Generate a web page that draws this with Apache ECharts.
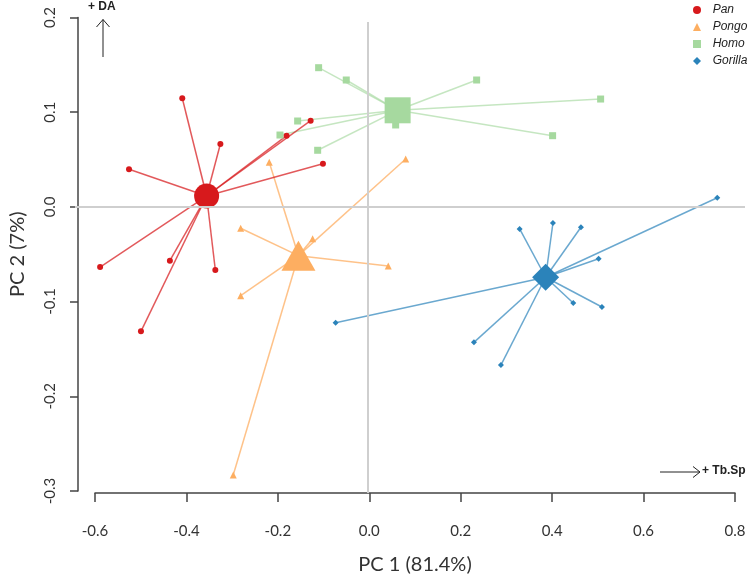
<!DOCTYPE html>
<html>
<head>
<meta charset="utf-8">
<script src="https://cdn.jsdelivr.net/npm/echarts@6/dist/echarts.min.js"></script>
<style>html,body{margin:0;padding:0;background:#fff}#c{width:750px;height:586px}</style>
</head>
<body>
<div id="c"></div>
<script>
// ---- data ----
const xTicks = [-0.6, -0.4, -0.2, 0.0, 0.2, 0.4, 0.6, 0.8];
const yTicks = [-0.3, -0.2, -0.1, 0.0, 0.1, 0.2];
const xTitle = 'PC 1 (81.4%)';
const yTitle = 'PC 2 (7%)';
const groups = ['Pan', 'Pongo', 'Homo', 'Gorilla'];

const panCentroid = [-0.351, 0.0115];
const panPoints = [
  [-0.404, 0.1147], [-0.321, 0.0664], [-0.520, 0.0397], [-0.583, -0.0635],
  [-0.431, -0.0568], [-0.332, -0.0666], [-0.494, -0.1314], [-0.0976, 0.0456],
  [-0.1767, 0.0752], [-0.1244, 0.0910]
];
const pongoCentroid = [-0.151, -0.0515];
const pongoPoints = [
  [-0.2146, 0.0471], [0.0826, 0.0506], [-0.2768, -0.0226], [-0.120, -0.0336],
  [0.0447, -0.0624], [-0.2768, -0.0938], [-0.293, -0.2831]
];
const homoCentroid = [0.0651, 0.1020];
const homoPoints = [
  [-0.107, 0.147], [-0.0468, 0.134], [0.2372, 0.134], [-0.1527, 0.0907],
  [-0.1912, 0.0759], [-0.1091, 0.0598], [0.0608, 0.0865], [0.5073, 0.1139],
  [0.4027, 0.0752]
];
const gorillaCentroid = [0.3875, -0.0743];
const gorillaPoints = [
  [0.7613, 0.0097], [0.3309, -0.0233], [0.4034, -0.0170], [0.4644, -0.0215],
  [0.5029, -0.0547], [0.4476, -0.1015], [0.5101, -0.1057], [-0.0699, -0.1223],
  [0.2313, -0.1430], [0.2901, -0.1670]
];

// ---- styling ----
const colors = {Pan: '#d7191c', Pongo: '#fdae61', Homo: '#a6d99f', Gorilla: '#2b83ba'};
const symbols = {Pan: 'circle', Pongo: 'triangle', Homo: 'rect', Gorilla: 'diamond'};
const smallSize = {Pan: 6, Pongo: 7, Homo: 7, Gorilla: 6};
const bigSize = {Pan: 25, Pongo: [34, 30], Homo: 26, Gorilla: 27};
const lineOpacity = {Pan: 0.72, Pongo: 0.75, Homo: 0.65, Gorilla: 0.7};
const dataMap = {
  Pan: [panCentroid, panPoints], Pongo: [pongoCentroid, pongoPoints],
  Homo: [homoCentroid, homoPoints], Gorilla: [gorillaCentroid, gorillaPoints]
};

// plot-region scale (matches axis grid pixel mapping)
const axL = 92.3, axR = 735, axT = 17.5, axB = 491;
const pxX = (axR - axL) / (xTicks[xTicks.length-1] - xTicks[0]);
const pxY = (axB - axT) / (yTicks[yTicks.length-1] - yTicks[0]);
const plL = 75, plR = 745, plT = 22, plB = 493;

const series = [];
series.push({
  type: 'scatter', xAxisIndex: 0, yAxisIndex: 0, data: [], silent: true,
  markLine: {
    silent: true, symbol: 'none', animation: false,
    label: {show: false},
    lineStyle: {color: '#cfcfcf', width: 2, type: 'solid'},
    data: [{xAxis: 0}, {yAxis: 0}]
  }
});
['Homo', 'Gorilla', 'Pongo', 'Pan'].forEach(g => {
  const [c, pts] = dataMap[g];
  series.push({
    type: 'lines', coordinateSystem: 'cartesian2d', xAxisIndex: 0, yAxisIndex: 0,
    name: g + ' links', silent: true, animation: false,
    lineStyle: {color: colors[g], width: 1.5, opacity: lineOpacity[g]},
    data: pts.map(p => ({coords: [c, p]}))
  });
  series.push({
    type: 'scatter', name: g, xAxisIndex: 0, yAxisIndex: 0, animation: false,
    symbol: symbols[g], symbolSize: smallSize[g],
    itemStyle: {color: colors[g], opacity: 1},
    data: pts
  });
  series.push({
    type: 'scatter', name: g + ' centroid', xAxisIndex: 0, yAxisIndex: 0, animation: false,
    symbol: symbols[g], symbolSize: bigSize[g],
    itemStyle: {color: colors[g], opacity: 1},
    data: [c]
  });
});

const chart = echarts.init(document.getElementById('c'), null, {renderer: 'canvas'});
chart.setOption({
  backgroundColor: '#ffffff',
  animation: false,
  grid: [
    {left: plL, right: 750 - plR, top: plT, bottom: 586 - plB},
    {left: axL, right: 750 - axR, top: axT, bottom: 586 - axB}
  ],
  xAxis: [
    {gridIndex: 0, type: 'value', show: false,
     min: xTicks[0] - (axL - plL) / pxX, max: xTicks[xTicks.length-1] + (plR - axR) / pxX},
    {gridIndex: 1, type: 'value', min: xTicks[0], max: xTicks[xTicks.length-1], interval: 0.2,
     offset: 2, splitLine: {show: false},
     axisLine: {show: true, onZero: false, lineStyle: {color: '#444', width: 1.5}},
     axisTick: {show: true, length: 9, lineStyle: {color: '#444', width: 1.5}},
     axisLabel: {margin: 31, fontFamily: 'Lato', fontSize: 15, color: '#333',
       formatter: v => v.toFixed(1)},
     name: xTitle, nameLocation: 'middle', nameGap: 62,
     nameTextStyle: {fontFamily: 'Lato', fontSize: 20, color: '#333'}}
  ],
  yAxis: [
    {gridIndex: 0, type: 'value', show: false,
     min: yTicks[0] - (plB - axB) / pxY, max: yTicks[yTicks.length-1] - (plT - axT) / pxY},
    {gridIndex: 1, type: 'value', min: yTicks[0], max: yTicks[yTicks.length-1], interval: 0.1,
     offset: 17, splitLine: {show: false},
     axisLine: {show: true, onZero: false, lineStyle: {color: '#444', width: 1.5}},
     axisTick: {show: true, length: 8, lineStyle: {color: '#444', width: 1.5}},
     axisLabel: {margin: 20, rotate: 90, fontFamily: 'Lato', fontSize: 15, color: '#333',
       formatter: v => v.toFixed(1)},
     name: yTitle, nameLocation: 'middle', nameGap: 50, nameRotate: 90,
     nameTextStyle: {fontFamily: 'Lato', fontSize: 20, color: '#333'}}
  ],
  legend: {
    orient: 'vertical', left: 693, top: 3, padding: 0, itemWidth: 8, itemHeight: 8, itemGap: 3,
    data: groups,
    formatter: name => '  ' + name,
    textStyle: {fontFamily: 'Liberation Sans', fontStyle: 'italic', fontSize: 12, color: '#222', lineHeight: 14},
    selectedMode: false
  },
  graphic: [
    {type: 'text', left: 88, top: 1, style: {text: '+ DA', font: 'bold 12px "Liberation Sans"', fill: '#222'}},
    {type: 'line', shape: {x1: 103, y1: 57, x2: 103, y2: 19.5}, style: {stroke: '#222', lineWidth: 1}},
    {type: 'polyline', shape: {points: [[96.5, 27], [103, 19.5], [109.5, 27]]}, style: {stroke: '#222', lineWidth: 1, fill: null}},
    {type: 'line', shape: {x1: 660, y1: 472, x2: 700, y2: 472}, style: {stroke: '#222', lineWidth: 1}},
    {type: 'polyline', shape: {points: [[693, 466.5], [700, 472], [693, 477.5]]}, style: {stroke: '#222', lineWidth: 1, fill: null}},
    {type: 'text', left: 702, top: 465, style: {text: '+ Tb.Sp', font: 'bold 12px "Liberation Sans"', fill: '#222'}}
  ],
  series: series
});
</script>
</body>
</html>
